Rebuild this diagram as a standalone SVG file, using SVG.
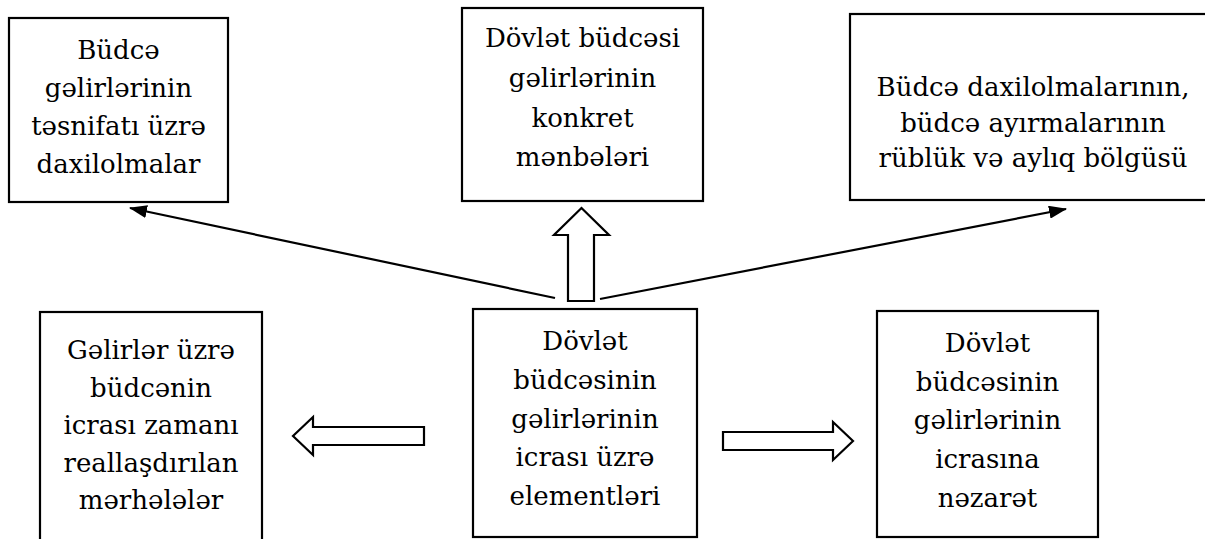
<svg xmlns="http://www.w3.org/2000/svg" width="1205" height="539" viewBox="0 0 1205 539">
<style>
.box{fill:#fff;stroke:#000;stroke-width:2.2}
.t{font-family:'DejaVu Serif',serif;font-size:26px;fill:#000;text-anchor:middle}
.ln{fill:none;stroke:#000;stroke-width:2.2}
.hol{fill:#fff;stroke:#000;stroke-width:2.2;stroke-linejoin:miter}
</style>
<defs>
<marker id="ah2" viewBox="0 0 18 13" refX="17" refY="6.5" markerWidth="18" markerHeight="13" orient="auto" markerUnits="userSpaceOnUse">
<path d="M0,0 L18,6.5 L0,13 Z" fill="#000"/>
</marker>
</defs>
<rect width="1205" height="539" fill="#fff"/>
<g id="n1">
<rect class="box" x="9" y="18" width="219" height="184"/>
<text class="t" x="118.5" y="59">Büdcə</text>
<text class="t" x="118.5" y="97">gəlirlərinin</text>
<text class="t" x="118.5" y="135">təsnifatı üzrə</text>
<text class="t" x="118.5" y="173">daxilolmalar</text>
</g>
<g id="n2">
<rect class="box" x="462" y="8" width="241" height="193"/>
<text class="t" x="582.5" y="47">Dövlət büdcəsi</text>
<text class="t" x="582.5" y="87">gəlirlərinin</text>
<text class="t" x="582.5" y="126.5">konkret</text>
<text class="t" x="582.5" y="166">mənbələri</text>
</g>
<g id="n3">
<rect class="box" x="850" y="14" width="360" height="186"/>
<text class="t" x="1033" y="96">Büdcə daxilolmalarının,</text>
<text class="t" x="1033" y="131.5">büdcə ayırmalarının</text>
<text class="t" x="1033" y="167">rüblük və aylıq bölgüsü</text>
</g>
<g id="n4">
<rect class="box" x="40" y="312" width="222" height="230"/>
<text class="t" x="151" y="359">Gəlirlər üzrə</text>
<text class="t" x="151" y="396.5">büdcənin</text>
<text class="t" x="151" y="434">icrası zamanı</text>
<text class="t" x="151" y="471.5">reallaşdırılan</text>
<text class="t" x="151" y="509">mərhələlər</text>
</g>
<g id="n5">
<rect class="box" x="473" y="309" width="224" height="228"/>
<text class="t" x="585" y="350">Dövlət</text>
<text class="t" x="585" y="389">büdcəsinin</text>
<text class="t" x="585" y="427.5">gəlirlərinin</text>
<text class="t" x="585" y="466">icrası üzrə</text>
<text class="t" x="585" y="505">elementləri</text>
</g>
<g id="n6">
<rect class="box" x="877" y="311" width="221" height="226"/>
<text class="t" x="987.5" y="352">Dövlət</text>
<text class="t" x="987.5" y="390.5">büdcəsinin</text>
<text class="t" x="987.5" y="429">gəlirlərinin</text>
<text class="t" x="987.5" y="468">icrasına</text>
<text class="t" x="987.5" y="507">nəzarət</text>
</g>
<g id="connectors">
<line class="ln" x1="555" y1="298" x2="130" y2="208" marker-end="url(#ah2)"/>
<line class="ln" x1="600" y1="299" x2="1066" y2="209" marker-end="url(#ah2)"/>
<polygon class="hol" points="568,301 568,235 554,235 581.5,208 609,235 594,235 594,301"/>
<polygon class="hol" points="424,427 313,427 313,417 293,436 313,455 313,445 424,445"/>
<polygon class="hol" points="723,432 833,432 833,422 853,441 833,460 833,450 723,450"/>
</g>
</svg>
